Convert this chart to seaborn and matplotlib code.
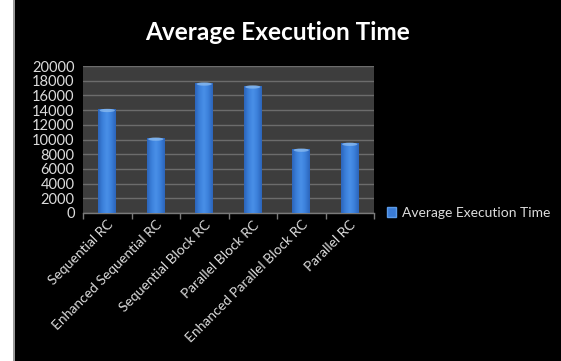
import numpy as np
import pandas as pd
import matplotlib
matplotlib.use("Agg")
import matplotlib.pyplot as plt
from matplotlib.patches import Rectangle, Patch, Ellipse
from matplotlib.colors import LinearSegmentedColormap
import seaborn as sns

categories = [
    "Sequential RC",
    "Enhanced Sequential RC",
    "Sequential Block RC",
    "Parallel Block RC",
    "Enhanced Parallel Block RC",
    "Parallel RC",
]
avg_time = [14100, 10200, 17700, 17300, 8700, 9500]
series_name = "Average Execution Time"
y_ticks = list(range(0, 20001, 2000))

df = pd.DataFrame({"Method": categories, "Time": avg_time})

sns.set_theme(style="dark")
plt.rcParams["font.family"] = ["Lato", "DejaVu Sans"]

fig = plt.figure(figsize=(5.61, 3.61), dpi=100, facecolor="black")
# white strip along the left edge
fig.patches.append(Rectangle((0, 0), 13 / 561, 1, transform=fig.transFigure,
                             facecolor="white", edgecolor="none", zorder=0))
fig.patches.append(Rectangle((13 / 561, 0), 1.5 / 561, 1, transform=fig.transFigure,
                             facecolor="#9a9a9a", edgecolor="none", zorder=0))

ax = fig.add_axes([83 / 561, 1 - 213 / 361, (374 - 83) / 561, (213 - 66) / 361])
ax.set_facecolor("#3d3d3d")

bar_blue = "#3a7bd5"
sns.barplot(data=df, x="Method", y="Time", color=bar_blue, saturation=1,
            width=0.37, linewidth=0, edgecolor="none", ax=ax, zorder=3)

# horizontal shading across each bar
shade = LinearSegmentedColormap.from_list(
    "barshade", ["#2c64ba", "#3b80da", "#4a90e8", "#3b80da", "#2c64ba"])
grad = np.linspace(0, 1, 64).reshape(1, -1)
for p in ax.patches:
    x0, y0 = p.get_x(), p.get_y()
    w, h = p.get_width(), p.get_height()
    im = ax.imshow(grad, cmap=shade, aspect="auto", zorder=4,
                   extent=(x0, x0 + w, y0, y0 + h), interpolation="bicubic")
    im.set_clip_path(p)
    # soft highlight at the top of the bar
    cap = Ellipse((x0 + w / 2, y0 + h - 150), w * 0.85, 450,
                  facecolor="#8dbcef", edgecolor="none", alpha=0.75, zorder=5)
    ax.add_patch(cap)

ax.set_xlim(-0.5, len(categories) - 0.5)
ax.set_ylim(0, 20000)
ax.set_yticks(y_ticks)
ax.set_yticklabels([str(t) for t in y_ticks])
ax.yaxis.grid(True, color="#6c6c6c", linewidth=1.0, zorder=1)
ax.xaxis.grid(False)
ax.set_axisbelow(True)
ax.set_xlabel("")
ax.set_ylabel("")

for s in ["top", "right", "left"]:
    ax.spines[s].set_visible(False)
ax.spines["bottom"].set_color("#7a7a7a")
ax.spines["bottom"].set_linewidth(1.0)

label_color = "#dcdcdc"
ax.tick_params(axis="y", length=0, pad=6, labelsize=10.5, labelcolor=label_color)
ax.tick_params(axis="x", which="major", length=0, pad=4, labelsize=10,
               labelcolor=label_color)
ax.set_xticks(np.arange(-0.5, len(categories), 1.0), minor=True)
ax.tick_params(axis="x", which="minor", length=4, color="#7a7a7a", width=1,
               bottom=True)
plt.setp(ax.get_xticklabels(), rotation=45, ha="right", rotation_mode="anchor")

fig.text(278 / 561, 1 - 32 / 361, "Average Execution Time", color="white",
         fontsize=17.6, fontweight="bold", ha="center", va="center")

handle = Patch(facecolor=bar_blue, edgecolor="#5a9ae8", label=series_name)
fig.legend(handles=[handle], loc="center left",
           bbox_to_anchor=(381 / 561, 1 - 213 / 361), frameon=False,
           fontsize=10, labelcolor=label_color, handlelength=0.7,
           handleheight=0.7, handletextpad=0.4, borderaxespad=0)

fig.savefig("out.png", dpi=100, facecolor=fig.get_facecolor())
